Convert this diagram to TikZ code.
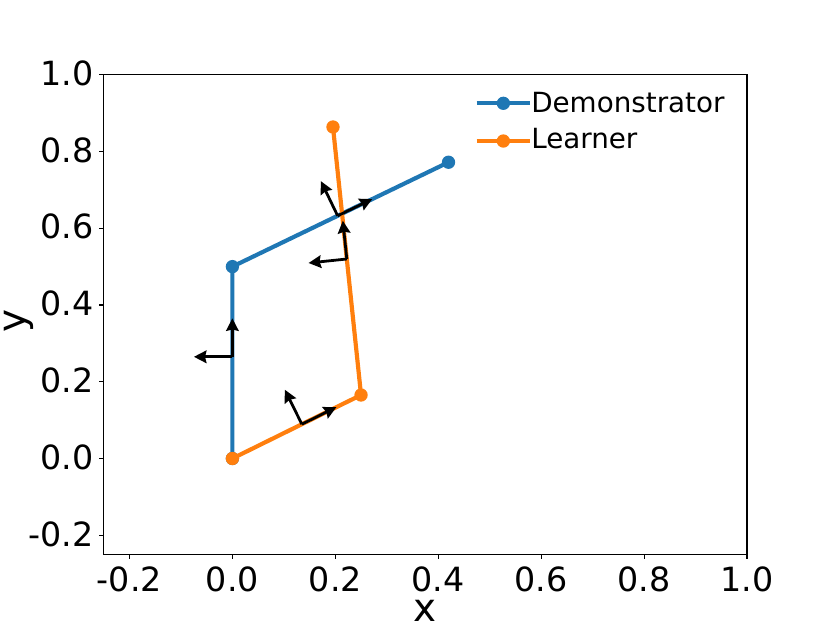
\documentclass[tikz,border=0pt]{standalone}
\usepackage{fontspec}
\setmainfont{DejaVu Sans}
\usetikzlibrary{calc,arrows.meta}
\definecolor{demo}{HTML}{1F77B4}
\definecolor{lrn}{HTML}{FF7F0E}
\begin{document}
\begin{tikzpicture}
	[x=370.5pt,y=276.3pt,
	every node/.style={inner sep=0pt,outer sep=0},
	frame/.style={line width=0.8pt},
	ticklab/.style={font=\fontsize{24}{28}\selectfont},
	axlab/.style={font=\fontsize{28}{32}\selectfont},
	lab/.style={font=\fontsize{20}{24}\selectfont},
	traj/.style={line width=3pt,line join=round},
	dot/.style={shape=circle,minimum size=9.6pt},
	quiv/.style={line width=2pt,-{Stealth[length=9pt,width=9pt,inset=1pt]}}]
	\def\al{27.7pt}
	\useasboundingbox (-0.4516,-0.4287) rectangle (1.1613,1.1948);
	% axes and ticks
	\coordinate (sw) at (-0.25,-0.25);
	\coordinate (ne) at (1,1);
	\draw[frame] (sw) rectangle (ne);
	\foreach \t [count=\i] in {-0.2,0.0,0.2,0.4,0.6,0.8,1.0} {
		\draw[frame] (\t,-0.25) -- ++(0,-3.5pt);
		\node[ticklab,anchor=north,yshift=-9pt] (xt\i) at (\t,-0.25) {\t};
		\draw[frame] (-0.25,\t) -- ++(-3.5pt,0);
		\node[ticklab,anchor=east,xshift=-7.5pt,yshift=1pt] (yt\i) at (-0.25,\t) {\t};
	}
	\node[axlab,anchor=base] (xlab) at (0.375,-0.4253) {x};
	\node[axlab,rotate=90] (ylab) at (-0.4158,0.358) {y};
	% trajectories
	\coordinate (d0) at (0,0);
	\coordinate (d1) at (0,0.5);
	\coordinate (d2) at (0.42,0.772);
	\coordinate (l0) at (0,0);
	\coordinate (l1) at (0.25,0.1655);
	\coordinate (l2) at (0.1955,0.8638);
	\draw[traj,demo] (d0) -- (d1) -- (d2);
	\foreach \p in {d0,d1,d2} \node[dot,fill=demo] (m\p) at (\p) {};
	\draw[traj,lrn] (l0) -- (l1) -- (l2);
	\foreach \p in {l0,l1,l2} \node[dot,fill=lrn] (m\p) at (\p) {};
	% frames along segments
	\coordinate (q1) at ($(d0)!0.53!(d1)$);
	\coordinate (q2) at ($(l0)!0.54!(l1)$);
	\coordinate (q3) at ($(d1)!0.487!(d2)$);
	\coordinate (q4) at ($(l1)!0.5075!(l2)$);
	\draw[quiv] (q1) -- ($(q1)!\al!(d1)$);
	\draw[quiv] (q1) -- ($(q1)!\al!90:(d1)$);
	\draw[quiv] (q2) -- ($(q2)!\al!(l1)$);
	\draw[quiv] (q2) -- ($(q2)!\al!90:(l1)$);
	\draw[quiv] (q3) -- ($(q3)!\al!(d2)$);
	\draw[quiv] (q3) -- ($(q3)!\al!90:(d2)$);
	\draw[quiv] (q4) -- ($(q4)!\al!(l2)$);
	\draw[quiv] (q4) -- ($(q4)!\al!90:(l2)$);
	% legend
	\coordinate (da) at (0.4747,0.9256);
	\coordinate (db) at (0.5784,0.9256);
	\coordinate (la) at (0.4747,0.8273);
	\coordinate (lb) at (0.5784,0.8273);
	\draw[traj,demo] (da) -- (db);
	\node[dot,fill=demo] (dleg) at ($(da)!0.5!(db)$) {};
	\node[lab,anchor=base west] (dtxt) at (0.5808,0.9021) {Demonstrator};
	\draw[traj,lrn] (la) -- (lb);
	\node[dot,fill=lrn] (lleg) at ($(la)!0.5!(lb)$) {};
	\node[lab,anchor=base west] (ltxt) at (0.5808,0.8083) {Learner};
\end{tikzpicture}
\end{document}
